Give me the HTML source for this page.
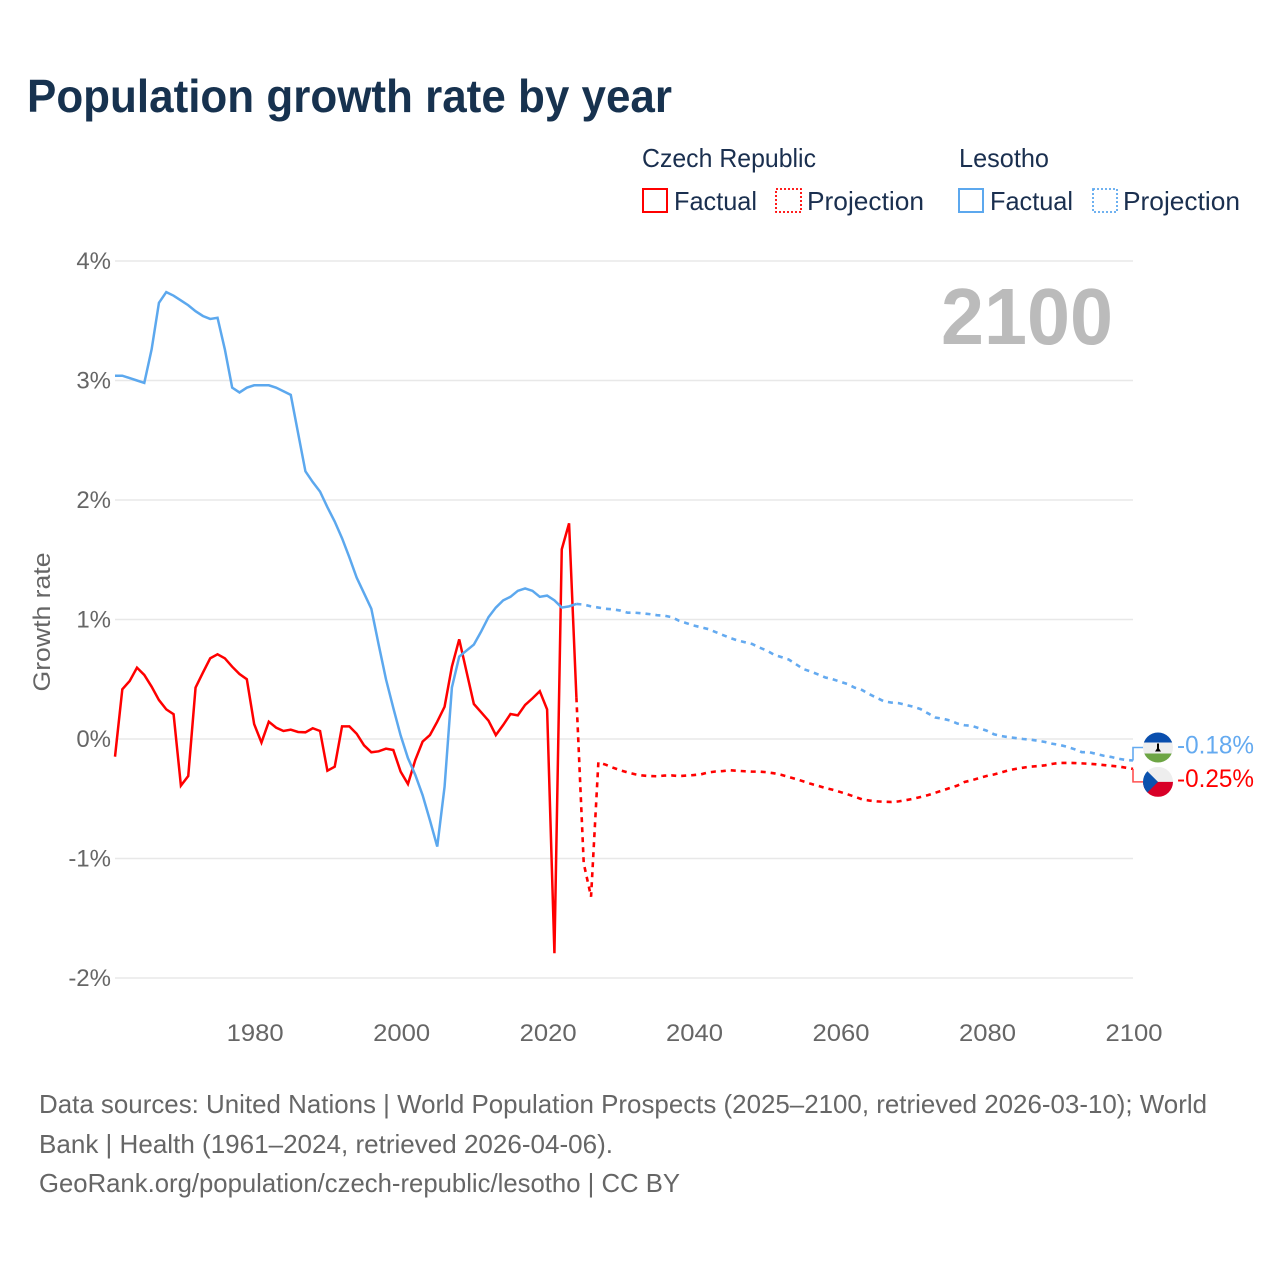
<!DOCTYPE html>
<html lang="en">
<head>
<meta charset="utf-8">
<title>Population growth rate by year</title>
<style>
html,body{margin:0;padding:0;background:#fff;}
svg{display:block;font-family:"Liberation Sans",sans-serif;}
</style>
</head>
<body>
<svg id="chart" xmlns="http://www.w3.org/2000/svg" width="1280" height="1280" viewBox="0 0 1280 1280">
  <rect x="0" y="0" width="1280" height="1280" fill="#ffffff"/>
  <text x="27" y="112" font-size="46" font-weight="700" fill="#17324f" textLength="645" lengthAdjust="spacingAndGlyphs">Population growth rate by year</text>

  <g font-size="26" fill="#1a2f4f">
    <text x="642" y="167" textLength="174" lengthAdjust="spacingAndGlyphs">Czech Republic</text>
    <text x="959" y="167" textLength="90" lengthAdjust="spacingAndGlyphs">Lesotho</text>
    <g>
      <rect x="643" y="189" width="24" height="23" fill="none" stroke="#ff0000" stroke-width="2"/>
      <text x="674" y="210" textLength="83" lengthAdjust="spacingAndGlyphs">Factual</text>
    </g>
    <g>
      <rect x="776" y="189" width="25" height="23" fill="none" stroke="#ff0000" stroke-width="1.8" stroke-dasharray="2 2"/>
      <text x="807" y="210" textLength="117" lengthAdjust="spacingAndGlyphs">Projection</text>
    </g>
    <g>
      <rect x="959" y="189" width="24" height="23" fill="none" stroke="#5ca8ee" stroke-width="2"/>
      <text x="990" y="210" textLength="83" lengthAdjust="spacingAndGlyphs">Factual</text>
    </g>
    <g>
      <rect x="1093" y="189" width="24" height="23" fill="none" stroke="#5ca8ee" stroke-width="1.8" stroke-dasharray="2 2"/>
      <text x="1123" y="210" textLength="117" lengthAdjust="spacingAndGlyphs">Projection</text>
    </g>
  </g>

  <g id="grid"></g>
  <g id="yticks" font-size="24" fill="#666666" text-anchor="end"></g>
  <g id="xticks" font-size="24" fill="#666666" text-anchor="middle"></g>
  <text transform="translate(50,622) rotate(-90)" font-size="24" fill="#666666" text-anchor="middle" textLength="139" lengthAdjust="spacingAndGlyphs">Growth rate</text>
  <text x="941" y="344" font-size="80" font-weight="700" fill="#bbbbbb" textLength="172" lengthAdjust="spacingAndGlyphs">2100</text>

  <g id="series"></g>

  <defs>
    <clipPath id="clip-lesotho"><circle id="clip-lesotho-circle" cx="1158" cy="747" r="15"/></clipPath>
    <clipPath id="clip-czech"><circle id="clip-czech-circle" cx="1158" cy="781" r="15"/></clipPath>
  </defs>
  <g id="flag-lesotho">
    <g clip-path="url(#clip-lesotho)">
      <rect x="1143" y="732" width="30" height="30" fill="#eeeeee"/>
      <rect x="1143" y="732" width="30" height="10" fill="#0a4fae"/>
      <rect x="1143" y="753" width="30" height="9" fill="#6da544"/>
      <path d="M1157 743h2v5l2 3h-6l2-3z" fill="#000000"/>
    </g>
  </g>
  <g id="flag-czech">
    <g clip-path="url(#clip-czech)">
      <rect x="1143" y="766" width="30" height="15" fill="#eeeeee"/>
      <rect x="1143" y="781" width="30" height="15" fill="#d80027"/>
      <path d="M1143 766L1158 781L1143 796z" fill="#0b52ae"/>
    </g>
  </g>
  <text id="label-lesotho" x="1177" y="753" font-size="25" fill="#64aaf0" textLength="77" lengthAdjust="spacingAndGlyphs"></text>
  <text id="label-czech" x="1177" y="786" font-size="25" fill="#ff0000" textLength="77" lengthAdjust="spacingAndGlyphs"></text>

  <g font-size="26" fill="#666666">
    <text x="39" y="1113" textLength="1168" lengthAdjust="spacingAndGlyphs">Data sources: United Nations | World Population Prospects (2025–2100, retrieved 2026-03-10); World</text>
    <text x="39" y="1153" textLength="574" lengthAdjust="spacingAndGlyphs">Bank | Health (1961–2024, retrieved 2026-04-06).</text>
    <text x="39" y="1192" textLength="641" lengthAdjust="spacingAndGlyphs">GeoRank.org/population/czech-republic/lesotho | CC BY</text>
  </g>
</svg>
<script>
var yTicks = [4, 3, 2, 1, 0, -1, -2];
var xTicks = [1980, 2000, 2020, 2040, 2060, 2080, 2100];
var factualStartYear = 1961;
var projectionStartYear = 2024;

var czechFactual = [-0.148,0.416,0.485,0.597,0.536,0.438,0.326,0.248,0.207,-0.39,-0.31,0.43,0.555,0.675,0.709,0.675,0.605,0.544,0.50,0.125,-0.03,0.145,0.095,0.067,0.078,0.059,0.056,0.09,0.067,-0.265,-0.232,0.106,0.106,0.044,-0.053,-0.111,-0.103,-0.081,-0.092,-0.273,-0.377,-0.176,-0.022,0.033,0.145,0.27,0.605,0.834,0.563,0.293,0.223,0.153,0.033,0.117,0.209,0.198,0.285,0.34,0.40,0.248,-1.793,1.587,1.805,0.349];

var lesothoFactual = [3.04,3.04,3.02,3.00,2.98,3.26,3.65,3.74,3.71,3.67,3.63,3.58,3.54,3.515,3.525,3.26,2.94,2.90,2.94,2.96,2.96,2.96,2.94,2.91,2.88,2.56,2.24,2.15,2.07,1.94,1.82,1.68,1.52,1.35,1.22,1.09,0.79,0.50,0.26,0.03,-0.16,-0.30,-0.47,-0.68,-0.90,-0.40,0.43,0.69,0.74,0.79,0.90,1.02,1.10,1.16,1.19,1.24,1.26,1.24,1.19,1.20,1.16,1.10,1.11,1.13];

var czechProjection = [0.349,-1.04,-1.32,-0.195,-0.215,-0.24,-0.262,-0.28,-0.295,-0.305,-0.31,-0.312,-0.306,-0.305,-0.31,-0.306,-0.302,-0.296,-0.28,-0.272,-0.268,-0.262,-0.266,-0.27,-0.273,-0.273,-0.278,-0.287,-0.30,-0.318,-0.335,-0.355,-0.375,-0.392,-0.41,-0.425,-0.443,-0.462,-0.483,-0.505,-0.515,-0.522,-0.525,-0.527,-0.522,-0.512,-0.50,-0.485,-0.47,-0.45,-0.43,-0.41,-0.39,-0.36,-0.345,-0.327,-0.31,-0.297,-0.28,-0.262,-0.25,-0.24,-0.231,-0.227,-0.22,-0.208,-0.20,-0.20,-0.201,-0.204,-0.207,-0.212,-0.218,-0.224,-0.23,-0.24,-0.25];

var lesothoProjection = [1.13,1.125,1.11,1.10,1.09,1.085,1.075,1.057,1.057,1.052,1.045,1.036,1.032,1.02,0.99,0.97,0.95,0.935,0.92,0.895,0.87,0.845,0.825,0.81,0.795,0.765,0.74,0.705,0.685,0.665,0.625,0.585,0.565,0.54,0.515,0.50,0.48,0.46,0.43,0.41,0.375,0.345,0.315,0.305,0.30,0.285,0.27,0.25,0.215,0.18,0.17,0.155,0.13,0.115,0.11,0.09,0.07,0.04,0.025,0.015,0.008,0,-0.005,-0.015,-0.025,-0.04,-0.05,-0.065,-0.085,-0.11,-0.11,-0.125,-0.14,-0.15,-0.165,-0.175,-0.18];

var SVG_NS = 'http://www.w3.org/2000/svg';
function xScale(year) { return 115 + (year - 1961) * (1133 - 115) / (2100 - 1961); }
function yScale(v) { return 739 - v * 119.5; }

function linePath(values, startYear) {
  var d = '';
  for (var i = 0; i < values.length; i++) {
    d += (i === 0 ? 'M' : 'L') + xScale(startYear + i).toFixed(2) + ' ' + yScale(values[i]).toFixed(2);
  }
  return d;
}

var grid = document.getElementById('grid');
var yTickGroup = document.getElementById('yticks');
yTicks.forEach(function (t) {
  var line = document.createElementNS(SVG_NS, 'line');
  
  
  line.setAttribute('x1', xScale(1961));
  line.setAttribute('x2', xScale(2100));
  line.setAttribute('y1', yScale(t));
  line.setAttribute('y2', yScale(t));
  line.setAttribute('stroke', '#e8e8e8');
  line.setAttribute('stroke-width', '1.5');
  grid.appendChild(line);

  var label = document.createElementNS(SVG_NS, 'text');
  
  
  label.setAttribute('x', 111);
  label.setAttribute('y', yScale(t) + 8);
  label.textContent = t + '%';
  yTickGroup.appendChild(label);
});

var xTickGroup = document.getElementById('xticks');
xTicks.forEach(function (t) {
  var label = document.createElementNS(SVG_NS, 'text');
  
  
  label.setAttribute('x', xScale(t) + 1);
  label.setAttribute('y', 1041);
  label.setAttribute('textLength', '57');
  label.setAttribute('lengthAdjust', 'spacingAndGlyphs');
  label.textContent = String(t);
  xTickGroup.appendChild(label);
});

var seriesGroup = document.getElementById('series');
function addLine(values, startYear, color, dashed, name) {
  var p = document.createElementNS(SVG_NS, 'path');
  
  
  p.setAttribute('d', linePath(values, startYear));
  p.setAttribute('fill', 'none');
  p.setAttribute('stroke', color);
  p.setAttribute('stroke-width', dashed ? '2.6' : '2.5');
  p.setAttribute('stroke-linejoin', 'miter');
  if (dashed) { p.setAttribute('stroke-dasharray', '5 5'); }
  seriesGroup.appendChild(p);
}
addLine(czechFactual, factualStartYear, '#ff0000', false, 'czech-factual-line');
addLine(czechProjection, projectionStartYear, '#ff0000', true, 'czech-projection-line');
addLine(lesothoFactual, factualStartYear, '#5ca8ee', false, 'lesotho-factual-line');
addLine(lesothoProjection, projectionStartYear, '#64aaf0', true, 'lesotho-projection-line');

function addConnector(lastValue, offset, color, name) {
  var x0 = xScale(2100);
  var y0 = yScale(lastValue);
  var p = document.createElementNS(SVG_NS, 'path');
  
  
  p.setAttribute('d', 'M' + x0 + ' ' + y0 + 'V' + (y0 + offset) + 'H' + (x0 + 12));
  p.setAttribute('fill', 'none');
  p.setAttribute('stroke', color);
  p.setAttribute('stroke-width', '1.6');
  seriesGroup.appendChild(p);
}
var lastLesotho = lesothoProjection[lesothoProjection.length - 1];
var lastCzech = czechProjection[czechProjection.length - 1];
addConnector(lastLesotho, -13, '#64aaf0', 'lesotho-end-connector');
addConnector(lastCzech, 13, '#ff5050', 'czech-end-connector');

document.getElementById('label-lesotho').textContent = lastLesotho.toFixed(2) + '%';
document.getElementById('label-czech').textContent = lastCzech.toFixed(2) + '%';
document.getElementById('label-lesotho').setAttribute('y', yScale(lastLesotho) - 13 + 6);
document.getElementById('label-czech').setAttribute('y', yScale(lastCzech) + 13 + 5);
document.getElementById('flag-lesotho').setAttribute('transform', 'translate(0,' + (yScale(lastLesotho) - 13 - 747) + ')');
document.getElementById('flag-czech').setAttribute('transform', 'translate(0,' + (yScale(lastCzech) + 13 - 781) + ')');
</script>
</body>
</html>
